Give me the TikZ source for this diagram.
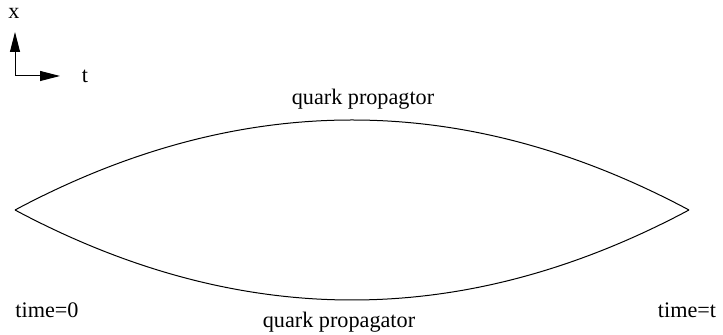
\documentclass[tikz,border=0pt]{standalone}
\usepackage{fontspec}
\setmainfont{Liberation Serif}
\usetikzlibrary{arrows.meta,positioning}
\tikzset{
  % plain text label
  lbl/.style={inner sep=0pt, anchor=base, font=\fontsize{11.1}{13}\selectfont},
  % axis arrow
  axis/.style={-{Triangle[length=10pt,width=5pt]}, line width=0.5pt},
  % propagator line
  prop/.style={line width=0.5pt}
}
\begin{document}
\begin{tikzpicture}[x=0.5pt,y=-0.5pt]
  \useasboundingbox (0,0) rectangle (723,335);

  % axes
  \coordinate (orig) at (15,76);
  \coordinate (xtip) at (15,32);
  \coordinate (ttip) at (60,76);
  \node[lbl] (xlab) at (14,19) {x};
  \node[lbl] (tlab) at (85,83) {t};
  \draw[axis] (orig) -- (xtip);
  \draw[axis] (orig) -- (ttip);

  % end points of the two propagators
  \coordinate (start) at (15,210);
  \coordinate (stop)  at (689,210);

  \draw[prop] (start) .. controls (240,90)  and (464,90)  .. (stop);
  \draw[prop] (start) .. controls (240,330) and (464,330) .. (stop);

  \node[lbl] (top)   at (363,105) {quark propagtor};
  \node[lbl] (bot)   at (339,328) {quark propagator};
  \node[lbl] (tzero) at (47,318)  {time=0};
  \node[lbl] (tend)  at (687,318) {time=t};
\end{tikzpicture}
\end{document}
